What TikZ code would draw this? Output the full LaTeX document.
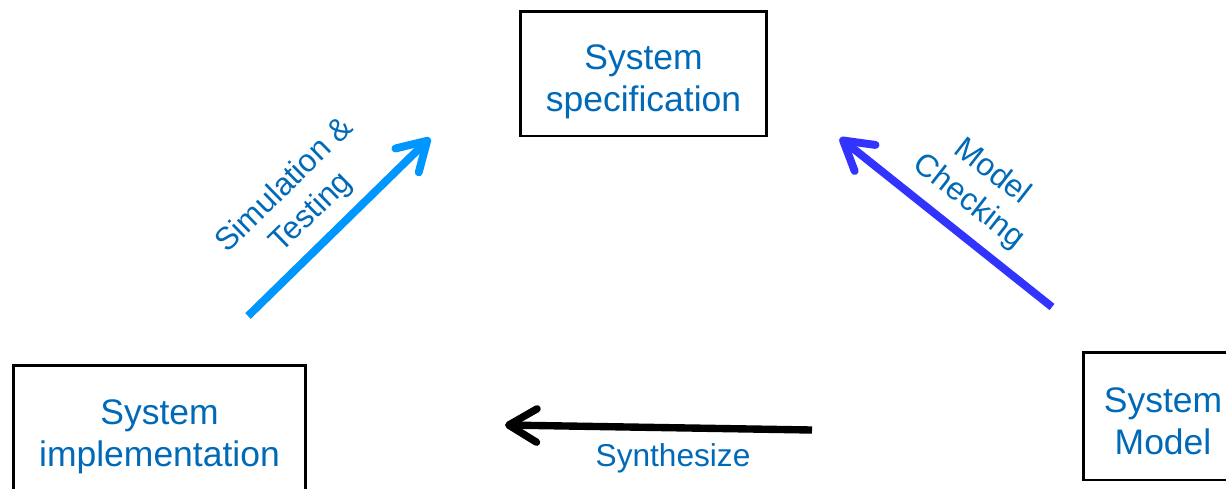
\documentclass[tikz,border=0pt]{standalone}
\usepackage{fontspec}
\setmainfont{Liberation Sans}
\usetikzlibrary{arrows.meta}
\definecolor{txtblue}{RGB}{0,106,184}
\definecolor{simblue}{RGB}{0,150,255}
\definecolor{mcblue}{RGB}{51,51,255}
% struts that set the height of the first and the depth of the last line
\newcommand\hiline{\rule{0pt}{24pt}}
\newcommand\loline{\rule[-4.5pt]{0pt}{0pt}}
\begin{document}
\begin{tikzpicture}[x=0.02cm,y=-0.02cm,
  box/.style={draw=black,line width=1.7pt,inner sep=0pt,align=center,
    text=txtblue,font=\fontsize{20.2}{24}\selectfont},
  lbl/.style={text=txtblue,align=center,inner sep=0pt,
    font=\fontsize{18}{21.5}\selectfont},
  flow/.style={line width=4.5pt,-{Straight Barb[round,length=16pt,width=19pt]}}]
\useasboundingbox (0,0) rectangle (1226,488);
\clip (0,0) rectangle (1226,488);

% the three boxes
\node[box,minimum width=4.94cm,minimum height=2.5cm] (spec) at (643.5,73.5)
  {\hiline System\\specification\loline};
\node[box,minimum width=5.86cm,minimum height=2.52cm] (impl) at (159.5,428)
  {\hiline System\\implementation\loline};
\node[box,minimum width=3.2cm,minimum height=2.56cm] (model) at (1163,416)
  {\hiline System\\Model\loline};

% arrow end points
\coordinate (simA) at (248,316);
\coordinate (simB) at (430,138);
\coordinate (mcA) at (1052,307);
\coordinate (mcB) at (840,138);
\coordinate (synA) at (812,430);
\coordinate (synB) at (505,425);

\draw[flow,simblue] (simA) -- (simB);
\draw[flow,mcblue] (mcA) -- (mcB);
\draw[flow,black,line width=4.2pt] (synA) -- (synB);

% labels
\node[lbl,rotate=44.4] (simlbl) at (298.5,199.5) {Simulation \&\\Testing};
\node[lbl,rotate=-38] (mclbl) at (980,187) {Model\\Checking};
\node[lbl] (synlbl) at (673,458) {Synthesize};
\end{tikzpicture}
\end{document}
